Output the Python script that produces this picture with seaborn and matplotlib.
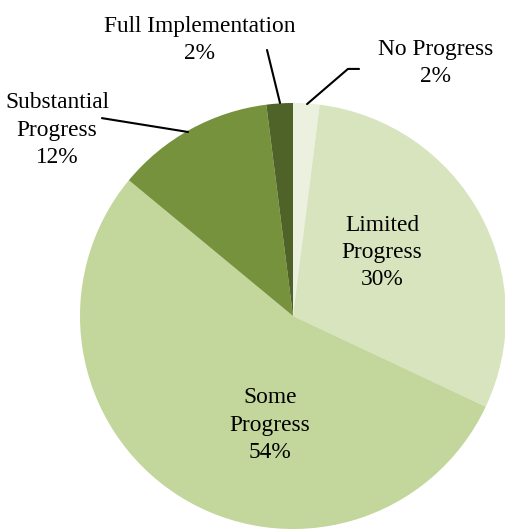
import matplotlib.pyplot as plt
import seaborn as sns

labels = ['No Progress', 'Limited Progress', 'Some Progress', 'Substantial Progress', 'Full Implementation']
shares = [2, 30, 54, 12, 2]
colors = ['#EBF1DE', '#D7E4BD', '#C3D69B', '#76923C', '#4F6228']

sns.set_theme(style='white')
plt.rcParams['font.family'] = ['Liberation Serif', 'DejaVu Serif']
plt.rcParams['text.color'] = 'black'

fig = plt.figure(figsize=(5.06, 5.30), dpi=100)
ax = fig.add_axes([0, 0, 1, 1])
ax.pie(shares, colors=colors, startangle=90, counterclock=False, radius=1,
       wedgeprops=dict(linewidth=0))
ax.set_xlim(-1.3756, 1.0)
ax.set_ylim(-1.0047, 1.4836)
ax.set_aspect('equal')
ax.axis('off')

fs = 16.8
ls = 1.38
# inside labels
ax.text(0.418, 0.300, 'Limited\nProgress\n30%', ha='center', va='center', fontsize=fs, linespacing=ls)
ax.text(-0.108, -0.512, 'Some\nProgress\n54%', ha='center', va='center', fontsize=fs, linespacing=ls)

# outside labels with leader lines
ax.text(-1.108, 0.873, 'Substantial\nProgress\n12%', ha='center', va='center', fontsize=fs, linespacing=ls)
ax.plot([-0.897, -0.493], [0.929, 0.864], color='black', lw=1.5)

ax.text(-0.437, 1.296, 'Full Implementation\n2%', ha='center', va='center', fontsize=fs, linespacing=ls)
ax.plot([-0.122, -0.061], [1.249, 1.000], color='black', lw=1.5)

ax.text(0.671, 1.188, 'No Progress\n2%', ha='center', va='center', fontsize=fs, linespacing=ls)
ax.plot([0.310, 0.258, 0.066], [1.160, 1.160, 0.995], color='black', lw=1.5)

fig.savefig('out.png', dpi=100, facecolor='white')
